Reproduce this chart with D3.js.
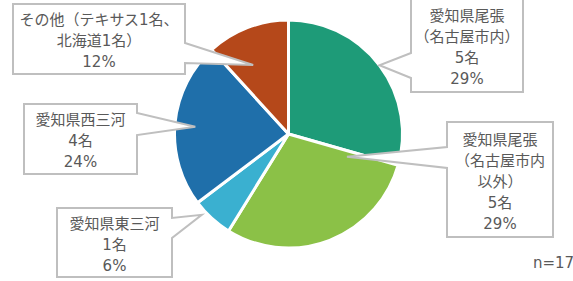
<!DOCTYPE html>
<html>
<head>
<meta charset="utf-8">
<script src="https://cdn.jsdelivr.net/npm/d3@7"></script>
<style>
  body { margin: 0; background: #fff; }
  text { font-family: "DejaVu Sans", "Noto Sans CJK JP", sans-serif; fill: #595959; font-size: 15px; }
</style>
</head>
<body>
<svg id="chart" width="573" height="281"></svg>
<script>
// data
var names = [
  ["愛知県尾張", "（名古屋市内）"],
  ["愛知県尾張", "（名古屋市内", "以外）"],
  ["愛知県東三河"],
  ["愛知県西三河"],
  ["その他（テキサス1名、", "北海道1名）"]
];
var counts = [5, 5, 1, 4, 2];
var showCount = [true, true, true, true, false];
var colors = ["#1e9b78", "#8bc147", "#3ab0d0", "#1f6faa", "#b5481a"];

var total = d3.sum(counts);

var svg = d3.select("#chart"),
    cx = 288.5, cy = 134, r = 114;

var pie = d3.pie().sort(null).value(function (d) { return d; });
var arc = d3.arc().innerRadius(0).outerRadius(r);
var arcs = pie(counts);

var g = svg.append("g").attr("transform", "translate(" + cx + "," + cy + ")");
g.selectAll("path")
  .data(arcs)
  .enter().append("path")
    .attr("d", arc)
    .attr("fill", function (d, i) { return colors[i]; })
    .attr("stroke", "#fff")
    .attr("stroke-width", 3)
    .attr("stroke-linejoin", "round");

// callout boxes (layout)
var boxes = [
  {x: 411, y: -1, w: 112, h: 93, side: "left", b1: 53, b2: 78, frac: 0.5, rf: 1.0},
  {x: 447, y: 122, w: 106, h: 115, side: "left", b1: 147, b2: 168, frac: 0.05, rf: 0.55},
  {x: 57, y: 208, w: 115, h: 69, side: "right", b1: 218, b2: 238, frac: 0.72, rf: 1.04},
  {x: 24, y: 104, w: 113, h: 70, side: "right", b1: 113, b2: 135, frac: 0.49, rf: 0.82},
  {x: 13, y: 4, w: 172, h: 70, side: "right", b1: 43, b2: 63, frac: 0.36, rf: 0.68}
];

function tip(d, b) {
  var a = d.startAngle + b.frac * (d.endAngle - d.startAngle);
  return [cx + Math.sin(a) * r * b.rf, cy - Math.cos(a) * r * b.rf];
}

function callout(d, i) {
  var b = boxes[i], t = tip(d, b), p = d3.path();
  if (b.side === "right") {
    p.moveTo(b.x, b.y);
    p.lineTo(b.x + b.w, b.y);
    p.lineTo(b.x + b.w, b.b1);
    p.lineTo(t[0], t[1]);
    p.lineTo(b.x + b.w, b.b2);
    p.lineTo(b.x + b.w, b.y + b.h);
    p.lineTo(b.x, b.y + b.h);
  } else {
    p.moveTo(b.x, b.y);
    p.lineTo(b.x + b.w, b.y);
    p.lineTo(b.x + b.w, b.y + b.h);
    p.lineTo(b.x, b.y + b.h);
    p.lineTo(b.x, b.b2);
    p.lineTo(t[0], t[1]);
    p.lineTo(b.x, b.b1);
  }
  p.closePath();
  return p.toString();
}

var labels = svg.append("g").selectAll("g")
  .data(arcs)
  .enter().append("g");

labels.append("path")
  .attr("d", callout)
  .attr("fill", "#fff")
  .attr("stroke", "#bfbfbf")
  .attr("stroke-width", 2);

labels.each(function (d, i) {
  var b = boxes[i];
  var lines = names[i].slice();
  if (showCount[i]) lines.push(counts[i] + "名");
  lines.push(Math.round(counts[i] / total * 100) + "%");
  var lh = 21, mid = b.y + b.h / 2 + 2;
  d3.select(this).selectAll("text")
    .data(lines)
    .enter().append("text")
      .attr("x", b.x + b.w / 2)
      .attr("y", function (l, j) { return mid + (j - (lines.length - 1) / 2) * lh; })
      .attr("text-anchor", "middle")
      .attr("dominant-baseline", "central")
      .text(function (l) { return l; });
});

svg.append("text")
  .attr("x", 533)
  .attr("y", 263)
  .attr("dominant-baseline", "central")
  .text("n=" + total);
</script>
</body>
</html>
